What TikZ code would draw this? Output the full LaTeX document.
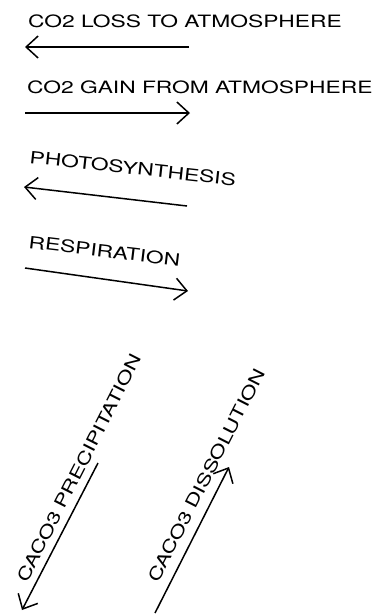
\documentclass[tikz,border=0pt]{standalone}
\usepackage{fontspec}
\setsansfont[FakeStretch=1.34]{TeX Gyre Heros}
\usetikzlibrary{arrows.meta}
\tikzset{
  lbl/.style={font=\sffamily\fontsize{17}{17}\selectfont, inner sep=0pt, anchor=base west},
  flow/.style={line width=1.5pt, -{Straight Barb[length=12pt,width=22pt,line width=1.5pt]}}
}
\begin{document}
\begin{tikzpicture}[x=1pt,y=-1pt]
\useasboundingbox (0,0) rectangle (390,614);
% horizontal labels
\node[lbl] (t1) at (28,27) {CO2 LOSS TO ATMOSPHERE};
\coordinate (a1s) at (189,47);
\coordinate (a1e) at (25,47);
\draw[flow] (a1s) -- (a1e);
\node[lbl] (t2) at (27,93) {CO2 GAIN FROM ATMOSPHERE};
\coordinate (a2s) at (25,113);
\coordinate (a2e) at (190,113);
\draw[flow] (a2s) -- (a2e);
% tilted
\node[lbl, rotate=-6.3] (t3) at (29,163) {PHOTOSYNTHESIS};
\coordinate (a3s) at (187,206);
\coordinate (a3e) at (24,187);
\draw[flow] (a3s) -- (a3e);
\node[lbl, rotate=-6.8] (t4) at (28,248) {RESPIRATION};
\coordinate (a4s) at (25,268);
\coordinate (a4e) at (188,291);
\draw[flow] (a4s) -- (a4e);
% diagonal
\node[lbl, rotate=63] (t5) at (27,584) {CACO3 PRECIPITATION};
\coordinate (a5s) at (98,463);
\coordinate (a5e) at (22,610);
\draw[flow] (a5s) -- (a5e);
\node[lbl, rotate=63] (t6) at (158,584) {CACO3 DISSOLUTION};
\coordinate (a6s) at (155,613);
\coordinate (a6e) at (229,467);
\draw[flow] (a6s) -- (a6e);
\end{tikzpicture}
\end{document}
